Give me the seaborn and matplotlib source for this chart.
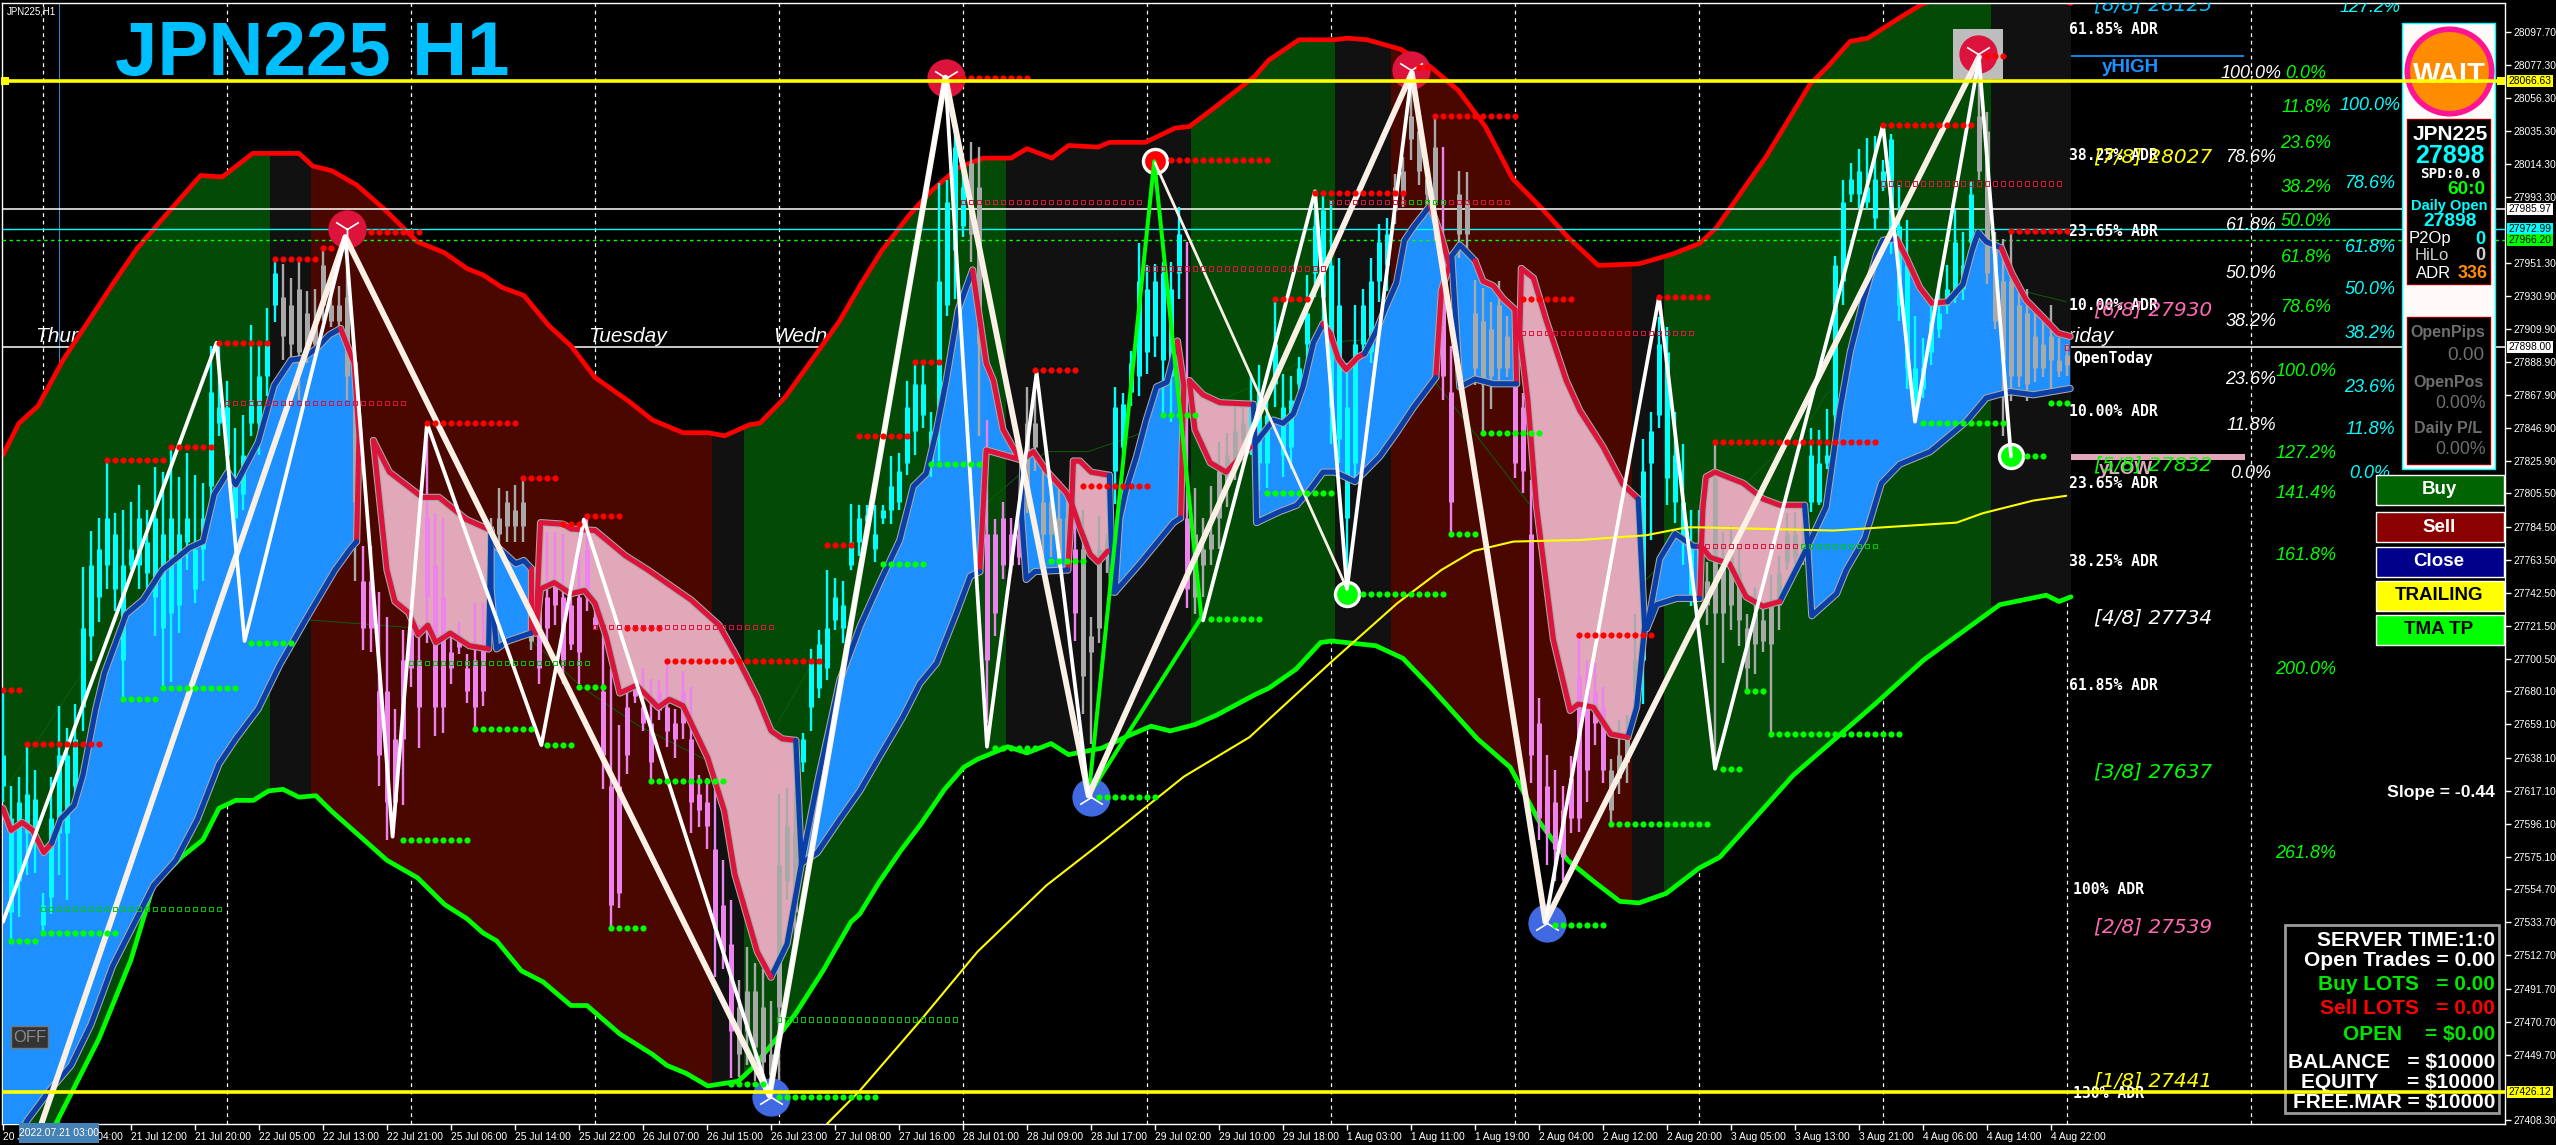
"""JPN225 H1 chart with bands, TMA cloud, zigzags and terminal panels."""

import numpy as np
import matplotlib
matplotlib.use("Agg")
import matplotlib.pyplot as plt
from matplotlib.patches import Rectangle
from matplotlib.transforms import Affine2D
import seaborn as sns

DPI = 100
W, H = 2556, 1145

# time axis
time_labels = ["20 Jul 20:00", "21 Jul 04:00", "21 Jul 12:00", "21 Jul 20:00", "22 Jul 05:00", "22 Jul 13:00",
               "22 Jul 21:00", "25 Jul 06:00", "25 Jul 14:00", "25 Jul 22:00", "26 Jul 07:00", "26 Jul 15:00",
               "26 Jul 23:00", "27 Jul 08:00", "27 Jul 16:00", "28 Jul 01:00", "28 Jul 09:00", "28 Jul 17:00",
               "29 Jul 02:00", "29 Jul 10:00", "29 Jul 18:00", "1 Aug 03:00", "1 Aug 11:00", "1 Aug 19:00",
               "2 Aug 04:00", "2 Aug 12:00", "2 Aug 20:00", "3 Aug 05:00", "3 Aug 13:00", "3 Aug 21:00",
               "4 Aug 06:00", "4 Aug 14:00", "4 Aug 22:00"]
time_ticks = list(range(0, 257, 8))
grid_bars = [5, 28, 51, 74, 97, 120, 143, 166, 189, 212, 235, 258, 281]

price_ticks = [28097.70, 28077.30, 28056.30, 28035.30, 28014.30, 27993.30, 27951.30, 27930.90, 27909.90,
               27888.90, 27867.90, 27846.90, 27825.90, 27805.50, 27784.50, 27763.50, 27742.50, 27721.50,
               27700.50, 27680.10, 27659.10, 27638.10, 27617.10, 27596.10, 27575.10, 27554.70, 27533.70,
               27512.70, 27491.70, 27470.70, 27449.70, 27408.30]

# candles, one value per hourly bar
cand_high = [27680, 27620, 27626, 27645, 27630, 27552, 27626, 27671, 27657, 27672,
             27759, 27782, 27790, 27827, 27793, 27795, 27800, 27811, 27795, 27822,
             27819, 27835, 27816, 27831, 27817, 27812, 27899, 27902, 27877, 27847,
             27855, 27912, 27902, 27923, 27952, 27951, 27942, 27955, 27934, 27935,
             27960, 27936, 27937, 27966, 27894, 27772, 27772, 27743, 27727, 27669,
             27719, 27727, 27722, 27851, 27793, 27790, 27715, 27724, 27704, 27736,
             27736, 27790, 27809, 27807, 27811, 27814, 27760, 27757, 27781, 27781,
             27780, 27743, 27781, 27791, 27731, 27722, 27694, 27659, 27683, 27686,
             27695, 27688, 27687, 27698, 27669, 27693, 27683, 27627, 27625, 27620,
             27573, 27548, 27497, 27518, 27508, 27504, 27484, 27615, 27619, 27617,
             27654, 27707, 27719, 27757, 27752, 27750, 27799, 27798, 27798, 27798,
             27798, 27829, 27831, 27877, 27890, 27887, 27857, 28002, 28004, 28037,
             28014, 28028, 28025, 27852, 27789, 27800, 27790, 27787, 27873, 27877,
             27820, 27818, 27808, 27805, 27789, 27795, 27727, 27791, 27780, 27873,
             27869, 27896, 27964, 27950, 27951, 27952, 27952, 27987, 27965, 27809,
             27790, 27810, 27838, 27844, 27860, 27860, 27881, 27887, 27867, 27928,
             27881, 27880, 27892, 27944, 27989, 27994, 27991, 27955, 27888, 27925,
             27935, 27955, 27976, 27980, 28008, 28019, 28065, 28049, 28012, 28044,
             28025, 27899, 28010, 28009, 27941, 27936, 27927, 27940, 27918, 27900,
             27869, 27814, 27676, 27640, 27630, 27620, 27639, 27716, 27700, 27698,
             27683, 27637, 27662, 27665, 27729, 27840, 27857, 27917, 27911, 27857,
             27837, 27795, 27795, 27762, 27838, 27781, 27785, 27770, 27729, 27746,
             27734, 27754, 27766, 27793, 27794, 27785, 27847, 27846, 27859, 27956,
             28004, 28015, 28024, 28031, 28032, 28017, 28033, 28001, 27979, 27918,
             27904, 27930, 27941, 27950, 27986, 27971, 28003, 28069, 28047, 27971,
             27967, 27972, 27934, 27935, 27920, 27918, 27925, 27904, 27900]
cand_low = [27610, 27523, 27537, 27564, 27565, 27528, 27539, 27564, 27548, 27608,
            27655, 27699, 27724, 27745, 27731, 27676, 27757, 27745, 27745, 27715,
            27683, 27686, 27717, 27757, 27736, 27750, 27795, 27842, 27819, 27772,
            27795, 27842, 27830, 27867, 27914, 27890, 27891, 27865, 27888, 27892,
            27915, 27911, 27911, 27865, 27750, 27706, 27705, 27620, 27586, 27599,
            27608, 27683, 27644, 27711, 27652, 27654, 27685, 27704, 27673, 27657,
            27671, 27760, 27772, 27775, 27775, 27775, 27706, 27685, 27711, 27722,
            27685, 27706, 27685, 27731, 27719, 27618, 27529, 27543, 27628, 27673,
            27655, 27624, 27662, 27645, 27638, 27650, 27590, 27594, 27580, 27499,
            27504, 27435, 27436, 27443, 27433, 27427, 27430, 27427, 27548, 27515,
            27629, 27655, 27676, 27687, 27719, 27711, 27757, 27766, 27785, 27762,
            27786, 27786, 27795, 27817, 27830, 27847, 27816, 27826, 27918, 27929,
            27968, 27952, 27842, 27660, 27715, 27751, 27755, 27760, 27793, 27820,
            27765, 27765, 27757, 27757, 27712, 27666, 27647, 27711, 27755, 27799,
            27826, 27861, 27867, 27881, 27892, 27855, 27851, 27929, 27733, 27729,
            27740, 27760, 27770, 27797, 27814, 27835, 27830, 27807, 27809, 27860,
            27816, 27821, 27871, 27888, 27930, 27915, 27837, 27825, 27757, 27814,
            27893, 27888, 27927, 27934, 27976, 27987, 28017, 28001, 27989, 27966,
            27865, 27781, 27955, 27957, 27874, 27844, 27859, 27874, 27879, 27815,
            27806, 27622, 27586, 27570, 27560, 27560, 27590, 27591, 27610, 27646,
            27622, 27596, 27615, 27622, 27666, 27672, 27776, 27847, 27798, 27787,
            27760, 27734, 27738, 27722, 27632, 27698, 27719, 27709, 27681, 27691,
            27705, 27653, 27719, 27757, 27761, 27760, 27794, 27798, 27821, 27845,
            27925, 27990, 27986, 27986, 27973, 27997, 27957, 27915, 27872, 27851,
            27866, 27887, 27904, 27919, 27926, 27928, 27959, 28004, 27938, 27910,
            27842, 27864, 27873, 27864, 27876, 27879, 27869, 27879, 27880]
cand_top = [27640, 27600, 27610, 27615, 27612, 27545, 27600, 27640, 27640, 27650,
            27720, 27760, 27770, 27790, 27780, 27760, 27770, 27790, 27775, 27790,
            27780, 27790, 27780, 27790, 27770, 27790, 27870, 27860, 27860, 27810,
            27830, 27865, 27880, 27900, 27945, 27930, 27925, 27935, 27920, 27915,
            27950, 27925, 27925, 27930, 27870, 27750, 27750, 27680, 27680, 27650,
            27700, 27720, 27700, 27790, 27760, 27740, 27705, 27715, 27695, 27700,
            27710, 27785, 27790, 27800, 27795, 27800, 27740, 27735, 27740, 27750,
            27740, 27735, 27740, 27770, 27727, 27680, 27620, 27620, 27670, 27682,
            27670, 27660, 27680, 27670, 27660, 27680, 27650, 27615, 27610, 27580,
            27545, 27520, 27480, 27490, 27490, 27480, 27450, 27570, 27595, 27590,
            27650, 27700, 27710, 27720, 27740, 27735, 27775, 27790, 27792, 27780,
            27795, 27810, 27820, 27860, 27875, 27875, 27845, 27940, 27990, 28025,
            28000, 28015, 28000, 27780, 27780, 27790, 27780, 27780, 27850, 27850,
            27800, 27800, 27790, 27790, 27770, 27770, 27715, 27770, 27775, 27860,
            27862, 27888, 27940, 27935, 27940, 27945, 27935, 27970, 27790, 27780,
            27770, 27780, 27820, 27830, 27845, 27850, 27860, 27870, 27855, 27900,
            27860, 27865, 27885, 27920, 27975, 27985, 27950, 27925, 27860, 27900,
            27925, 27940, 27965, 27970, 28000, 28010, 28045, 28035, 28005, 28025,
            27960, 27870, 27995, 27990, 27920, 27915, 27910, 27925, 27905, 27890,
            27860, 27780, 27660, 27620, 27610, 27605, 27625, 27690, 27690, 27680,
            27670, 27630, 27640, 27650, 27700, 27820, 27845, 27900, 27895, 27830,
            27800, 27775, 27770, 27750, 27815, 27765, 27765, 27755, 27720, 27730,
            27725, 27735, 27755, 27780, 27780, 27775, 27830, 27825, 27830, 27950,
            27990, 28005, 28010, 28000, 28005, 28010, 28030, 27975, 27950, 27885,
            27885, 27915, 27920, 27935, 27965, 27950, 27995, 28045, 28035, 27960,
            27940, 27940, 27925, 27920, 27905, 27900, 27905, 27890, 27893]
cand_bot = [27620, 27540, 27560, 27590, 27585, 27532, 27550, 27590, 27590, 27620,
            27670, 27715, 27740, 27760, 27745, 27700, 27760, 27760, 27755, 27740,
            27720, 27730, 27735, 27775, 27745, 27770, 27810, 27850, 27830, 27790,
            27805, 27850, 27850, 27880, 27925, 27905, 27900, 27895, 27895, 27900,
            27925, 27915, 27915, 27880, 27800, 27720, 27720, 27640, 27610, 27610,
            27650, 27695, 27670, 27740, 27670, 27670, 27695, 27708, 27680, 27670,
            27680, 27770, 27780, 27785, 27785, 27785, 27712, 27695, 27720, 27735,
            27700, 27710, 27705, 27740, 27722, 27640, 27545, 27552, 27640, 27677,
            27660, 27635, 27668, 27655, 27650, 27660, 27610, 27605, 27595, 27530,
            27515, 27465, 27450, 27465, 27455, 27445, 27437, 27480, 27560, 27540,
            27635, 27670, 27682, 27695, 27725, 27720, 27760, 27775, 27788, 27770,
            27790, 27795, 27800, 27825, 27845, 27855, 27825, 27860, 27925, 27960,
            27975, 27970, 27900, 27700, 27730, 27760, 27760, 27765, 27810, 27835,
            27780, 27780, 27765, 27765, 27730, 27690, 27705, 27720, 27765, 27820,
            27835, 27870, 27880, 27895, 27905, 27890, 27880, 27945, 27745, 27740,
            27760, 27770, 27790, 27810, 27825, 27840, 27845, 27825, 27825, 27875,
            27830, 27835, 27875, 27900, 27945, 27930, 27860, 27840, 27790, 27825,
            27900, 27895, 27940, 27950, 27985, 27995, 28030, 28010, 27995, 27990,
            27880, 27800, 27970, 27970, 27885, 27875, 27880, 27885, 27885, 27825,
            27820, 27640, 27600, 27590, 27580, 27575, 27600, 27600, 27630, 27660,
            27630, 27605, 27625, 27635, 27680, 27700, 27825, 27855, 27815, 27800,
            27775, 27740, 27745, 27735, 27730, 27730, 27735, 27725, 27695, 27710,
            27712, 27710, 27735, 27762, 27765, 27765, 27800, 27800, 27825, 27855,
            27940, 27995, 27995, 27990, 27980, 28000, 27970, 27925, 27885, 27858,
            27872, 27895, 27910, 27925, 27930, 27935, 27965, 28010, 27945, 27915,
            27890, 27880, 27880, 27875, 27885, 27885, 27890, 27883, 27887]
cand_kind = ("c" * 35 + "g" * 10 + "v" * 16 + "g" * 6 + "v" * 25 + "g" * 8 + "c" * 21 + "g" * 2 + "v" * 5
             + "g" * 6 + "v" + "g" * 4 + "c" * 9 + "v" + "g" * 7 + "c" * 18 + "g" * 6 + "v" * 2 + "g" * 7
             + "v" * 12 + "g" * 4 + "c" * 8 + "g" * 13 + "c" * 21 + "g" * 12)

# outer bands
upper_x = [0, 2, 4.4, 7.5, 10.6, 13.7, 16.8, 20.2, 24.7, 27.4, 31.2, 37, 38.7, 41.1, 44.2, 47.6, 51.8, 55.2,
           58, 60, 62.4, 65.1, 68.2, 71, 74, 78.2, 81.2, 85, 88.1, 90.2, 93.3, 94.6, 97.7, 101.1, 104.6, 107.1,
           109.8, 113.3, 116, 119.4, 122.5, 126, 128, 131.1, 133.2, 136.9, 138.3, 142.8, 146.5, 148.3, 151.7,
           156.5, 158.2, 162, 166.4, 168.1, 170.5, 174.7, 178.4, 181.9, 185.3, 188.7, 192.2, 195.6, 199.4,
           204.5, 208.6, 212.1, 214.2, 217.5, 220.4, 223.4, 225.9, 228.1, 230.9, 233.1, 237.1, 240, 248, 255, 258.5]
upper_y = [27830, 27850, 27861, 27890, 27914, 27938, 27961, 27981, 28007, 28006, 28021, 28021, 28013, 28010,
           28001, 27986, 27965, 27958, 27948, 27944, 27936, 27931, 27912, 27899, 27879, 27864, 27852, 27844,
           27844, 27842, 27849, 27850, 27866, 27890, 27915, 27937, 27959, 27982, 27997, 28012, 28018, 28018,
           28024, 28018, 28026, 28025, 28028, 28028, 28037, 28038, 28051, 28070, 28080, 28093, 28093, 28094,
           28093, 28087, 28076, 28061, 28038, 28005, 27987, 27968, 27950, 27951, 27957, 27964, 27974, 27998,
           28019, 28044, 28065, 28076, 28092, 28094, 28107, 28116, 28128, 28122, 28116]
lower_x = [0, 6, 12, 16, 18.8, 22.3, 25, 27, 29.1, 31.3, 33.2, 35, 37, 39.1, 41.1, 44.9, 48, 51.8, 55.2, 58, 60,
           61.7, 64.8, 67.5, 71, 73, 77.1, 81.2, 83, 85.4, 88.1, 91.9, 93.6, 96.7, 99.1, 102.5, 106, 107.1,
           109.5, 112.2, 114.6, 117.7, 120.1, 121.8, 125.6, 128, 131, 133.2, 137.3, 140.7, 143.5, 145.9, 149,
           151.7, 156.5, 158.2, 161.6, 164.7, 166.1, 171.6, 175, 178.4, 184.3, 188.4, 192.1, 195.6, 199, 202.1,
           204.5, 207.9, 212, 214.6, 223.8, 234, 240.1, 249.6, 255.4, 257, 258.5]
lower_y = [27360, 27400, 27460, 27510, 27557, 27575, 27586, 27606, 27611, 27611, 27617, 27618, 27613, 27614,
           27604, 27587, 27573, 27562, 27545, 27536, 27527, 27522, 27503, 27496, 27481, 27481, 27463, 27450,
           27443, 27438, 27430, 27433, 27441, 27460, 27476, 27503, 27534, 27539, 27559, 27579, 27595, 27618,
           27632, 27637, 27645, 27641, 27647, 27640, 27644, 27652, 27658, 27655, 27659, 27665, 27678, 27682,
           27694, 27711, 27712, 27709, 27701, 27683, 27650, 27632, 27597, 27573, 27559, 27547, 27546, 27552,
           27568, 27575, 27627, 27672, 27700, 27735, 27741, 27737, 27740]

# trend zones between the bands
zone_start = [-1, 33.4, 38.5, 88.6, 92.6, 125.4, 148.5, 166.5, 173.5, 203.6, 207.6, 248.5]
zone_end = [33.4, 38.5, 88.6, 92.6, 125.4, 148.5, 166.5, 173.5, 203.6, 207.6, 248.5, 258.5]
zone_color = ["#034a06", "#111111", "#4a0700", "#111111", "#034a06", "#111111",
              "#034a06", "#111111", "#4a0700", "#111111", "#034a06", "#111111"]

# TMA cloud pieces: edge colour plus the stretch of the outline it colours
blue_1 = [("c", [(0, 27606), (1, 27592), (2.4, 27597), (3.7, 27592), (5.1, 27578), (6.1, 27584)]),
          ("n", [(6.1, 27584), (7.2, 27599), (8.9, 27608), (10, 27627), (11.6, 27669), (12.7, 27692), (15.4, 27729),
                 (17.5, 27738), (19.9, 27757), (23.3, 27771), (25, 27775), (26.4, 27805), (28.1, 27819),
                 (29.1, 27811), (31.9, 27838), (33.9, 27874), (36, 27890), (37.4, 27891), (39.1, 27897),
                 (40.8, 27906), (42.2, 27910)]),
          ("c", [(42.2, 27910), (43.9, 27888), (44.5, 27842), (44.2, 27775)]),
          ("n", [(44.2, 27775), (43.5, 27771), (41.5, 27757), (38, 27727), (34.6, 27697), (31.9, 27669), (29.1, 27650),
                 (27, 27634), (24.3, 27599), (21.6, 27573), (18.8, 27557), (16.1, 27530), (13.7, 27506), (11, 27469),
                 (8.5, 27443), (5.8, 27427), (3, 27408), (0, 27375)])]
pink_1 = [("c", [(46.3, 27839), (48.3, 27819), (52.4, 27803), (54.5, 27803), (57.9, 27789), (61, 27782)]),
          ("n", [(61, 27782), (60.7, 27707)]),
          ("c", [(60.7, 27707), (58.3, 27709), (55.9, 27717), (54.1, 27711), (53.1, 27722), (51.9, 27716), (50.7, 27730),
                 (49, 27737), (48, 27757), (46.3, 27839)])]
blue_2 = [("n", [(61.7, 27772), (64.1, 27761), (65.1, 27763), (66, 27758)]),
          ("c", [(66, 27758), (66, 27717)]),
          ("n", [(66, 27717), (63.1, 27712), (61.7, 27707), (61, 27745), (61, 27782)])]
pink_2 = [("c", [(66.6, 27717), (67.2, 27787), (70, 27786), (71, 27783), (74, 27782), (77.8, 27766), (80.6, 27757),
                 (86, 27738), (89.5, 27722), (91.5, 27704), (94.3, 27676), (96, 27655), (97.4, 27650), (99.1, 27649)]),
          ("n", [(99.1, 27649), (99.8, 27571), (98, 27520), (96, 27499)]),
          ("c", [(96, 27499), (94.3, 27515), (91.5, 27564), (90.2, 27604), (88.1, 27638), (85, 27671), (83.3, 27675),
                 (81.9, 27670), (79.2, 27684), (77.1, 27679), (75.4, 27715), (74, 27736), (72.7, 27744), (71, 27742),
                 (68.9, 27749), (67.2, 27745), (66.6, 27717)])]
blue_3 = [("n", [(99.8, 27571), (101.8, 27622), (104.6, 27687), (107.2, 27722), (109.6, 27749), (112.1, 27776),
                 (113.8, 27810), (115.4, 27818), (116.7, 27846), (117.9, 27877), (119.4, 27922), (121.2, 27947)]),
          ("c", [(121.2, 27947), (122.9, 27888), (123.8, 27877), (125, 27846), (127.1, 27827), (122.9, 27833),
                 (122.1, 27756)]),
          ("n", [(122.1, 27756), (120.9, 27753), (119.2, 27730), (116.7, 27698), (114.6, 27685), (112.5, 27664),
                 (109.6, 27639), (107.1, 27617), (104.6, 27599), (101.8, 27578), (99.8, 27571)])]
blue_4 = [("c", [(127.5, 27827), (128.8, 27832), (130.4, 27820), (132.9, 27806), (133.6, 27799), (133.1, 27757)]),
          ("n", [(133.1, 27757), (129, 27756), (127.9, 27751), (127.3, 27793), (127.5, 27827)])]
pink_4 = [("c", [(133.8, 27826), (134.6, 27826), (136, 27819), (138.3, 27817)]),
          ("n", [(138.3, 27817), (138.7, 27743)]),
          ("c", [(138.1, 27769), (136.9, 27762), (135.9, 27767), (134.6, 27784), (133.6, 27799), (133.8, 27826)])]
blue_5 = [("n", [(139, 27743), (139.6, 27790), (140.4, 27808), (141.7, 27829), (142.9, 27852), (144.2, 27873),
                 (145.5, 27876), (146.8, 27902)]),
          ("c", [(146.8, 27902), (147.6, 27874), (147.2, 27790)]),
          ("n", [(147.2, 27790), (146.3, 27787), (142.1, 27761), (139, 27743)])]
pink_5 = [("c", [(148.3, 27877), (150, 27868), (152.1, 27863), (156.3, 27862)]),
          ("n", [(156.3, 27862), (156.5, 27837)]),
          ("c", [(155.9, 27835), (152.9, 27819), (150.9, 27825), (149, 27846), (148.3, 27877)])]
blue_6 = [("n", [(156.5, 27837), (158.8, 27852), (160, 27850), (161.3, 27856), (162.5, 27873), (163.8, 27901),
                 (165, 27913)]),
          ("c", [(165, 27913), (165.9, 27907), (166.9, 27891), (167.9, 27884), (169.4, 27892), (170.2, 27894)]),
          ("n", [(170.2, 27894), (171.7, 27909), (172.9, 27924), (174.2, 27939), (175.2, 27966), (176.4, 27975),
                 (178.4, 27988)]),
          ("c", [(178.4, 27988), (179.8, 27968), (180.8, 27950), (179.8, 27934), (179.1, 27879)]),
          ("n", [(179.1, 27879), (176.3, 27860), (174.2, 27844), (172.1, 27829), (169, 27813), (166.5, 27819),
                 (165, 27819), (163.4, 27808), (161.7, 27798), (159.6, 27794), (157.5, 27789), (156.7, 27787),
                 (156.5, 27837)])]
blue_7 = [("n", [(181.1, 27956), (182.1, 27963), (184, 27953)]),
          ("c", [(184, 27953), (185, 27940), (186.3, 27937), (187.5, 27929), (189, 27922), (189.2, 27875)]),
          ("n", [(189.2, 27875), (186.3, 27875), (184, 27878), (182.1, 27873), (181.1, 27956)])]
pink_7 = [("c", [(189.8, 27948), (191.3, 27942), (192.9, 27915), (195.4, 27877), (197.1, 27858), (200, 27835),
                 (202.5, 27811), (204.4, 27802)]),
          ("n", [(204.4, 27802), (205.2, 27721), (204.2, 27670), (203.1, 27651)]),
          ("c", [(203.1, 27651), (201, 27653), (198.8, 27670), (196.9, 27672), (195.9, 27668), (193.8, 27713),
                 (191.7, 27797), (190.6, 27865), (189.6, 27907), (189.8, 27948)])]
blue_8 = [("n", [(205.5, 27720), (207.1, 27764), (209, 27780), (211.3, 27772), (212.3, 27772)]),
          ("c", [(212.3, 27772), (212.1, 27739)]),
          ("n", [(212.1, 27739), (209.2, 27739), (206.7, 27735), (205.5, 27720)])]
pink_9 = [("c", [(212.5, 27797), (212.9, 27816), (214, 27819), (217.5, 27812), (220, 27802), (222.1, 27798),
                 (225.2, 27798)]),
          ("n", [(225.2, 27798), (225.6, 27772), (222.1, 27737)]),
          ("c", [(222.1, 27737), (220, 27734), (217.9, 27740), (215.8, 27761), (213.4, 27765), (212.3, 27772),
                 (212.5, 27797)])]
blue_10 = [("n", [(225.6, 27772), (227.9, 27797), (229.6, 27858), (230.9, 27895), (232.5, 27927), (234.2, 27957),
                  (235, 27966), (236.7, 27967)]),
           ("c", [(236.7, 27967), (237.9, 27955), (239.6, 27936), (241.1, 27926), (243.1, 27927)]),
           ("n", [(243.1, 27927), (245, 27938), (246.1, 27959), (246.9, 27971), (247.9, 27965), (249.8, 27961)]),
           ("c", [(249.8, 27961), (251.1, 27945), (252.9, 27928), (255.4, 27915), (256.9, 27907), (258.4, 27905)]),
           ("n", [(258.4, 27872), (253.8, 27868), (250.9, 27870), (247.9, 27866), (245.4, 27851), (240.9, 27832),
                  (237.1, 27824), (234.8, 27812), (232.7, 27777), (230.4, 27757), (229.2, 27742), (226.1, 27728),
                  (225.6, 27772)])]
blue_clouds = [blue_1, blue_2, blue_3, blue_4, blue_5, blue_6, blue_7, blue_8, blue_10]
pink_clouds = [pink_1, pink_2, pink_4, pink_5, pink_7, pink_9]

# slow moving averages
ma_yellow_x = [103, 107.1, 114.6, 121.8, 130.4, 138, 147.6, 155.8, 166.1, 174.3, 179.8, 183.8, 188.8, 197.1, 205.4,
               210.4, 212.1, 228.8, 244.2, 247.5, 253.8, 257.9]
ma_yellow_y = [27406, 27427, 27471, 27515, 27557, 27587, 27626, 27651, 27699, 27736, 27757, 27769, 27775, 27776,
               27779, 27784, 27784, 27782, 27787, 27793, 27801, 27804]
ma_dark_x = [0.3, 15.4, 65.5, 72.3, 79.2, 88.1, 95.7, 102.5, 130.4, 135.6, 141.4, 156.5, 167.5, 170.9, 179.2, 190.6,
             205.4, 225.8, 228, 253.1, 257.9]
ma_dark_y = [27618, 27734, 27715, 27683, 27659, 27636, 27650, 27710, 27832, 27832, 27842, 27874, 27902, 27903,
             27875, 27800, 27751, 27851, 27869, 27933, 27927]

# zigzags
zz_major_x = [4.8, 42.8, 95.8, 117.8, 135.7, 176.1, 192.8, 247]
zz_major_y = [27406, 27968, 27424, 28069, 27614, 28072, 27534, 28082]
zz_a_x = [0, 26.7, 30.2, 42.8, 48.7, 53, 67.3, 72.6, 95.8, 117.8, 123, 129.2, 135.7]
zz_a_y = [27534, 27901, 27712, 27968, 27588, 27850, 27646, 27789, 27424, 28069, 27645, 27882, 27614]
zz_b_x = [150, 164, 168, 176.1]
zz_b_y = [27725, 27997, 27745, 28072]
zz_c_x = [144, 168]
zz_c_y = [28015, 27745]
zz_d_x = [192.8, 207, 214, 235, 239, 247, 251]
zz_d_y = [27534, 27930, 27631, 28039, 27851, 28081, 27829]
zz_green_x = [135.7, 143.9, 149.8, 135.7]
zz_green_y = [27614, 28016, 27727, 27614]

# fractal levels drawn as dotted rows
red_start = [0, 3, 13, 21, 27, 34, 40, 46, 53, 65, 70, 73, 78, 83, 103, 107, 114, 119, 129, 135, 146, 159, 164,
             177, 179, 190, 197, 207, 214, 235, 248, 251]
red_end = [2, 12, 20, 26, 33, 39, 41, 52, 64, 69, 72, 77, 82, 102, 106, 113, 117, 128, 134, 143, 158, 163, 175,
           178, 189, 196, 206, 213, 234, 246, 250, 258]
red_price = [27681, 27647, 27827, 27835, 27901, 27954, 27961, 27971, 27850, 27815, 27786, 27791, 27720, 27699,
             27773, 27842, 27889, 28069, 27884, 27810, 28017, 27929, 27996, 28076, 28045, 27929, 27716, 27930,
             27838, 28039, 28083, 27972]
green_start = [1, 5, 15, 20, 31, 50, 59, 68, 72, 76, 81, 91, 97, 110, 116, 124, 131, 137, 145, 151, 158, 170, 181,
               185, 194, 201, 215, 218, 221, 240, 253, 256]
green_end = [4, 14, 19, 29, 36, 58, 66, 71, 75, 80, 90, 95, 109, 115, 122, 129, 135, 144, 149, 157, 166, 180, 184,
             192, 200, 213, 217, 220, 237, 250, 255, 258]
green_price = [27522, 27527, 27675, 27682, 27711, 27586, 27656, 27646, 27683, 27530, 27623, 27431, 27423, 27761,
               27824, 27644, 27763, 27613, 27855, 27726, 27806, 27742, 27780, 27844, 27532, 27596, 27631, 27680,
               27653, 27850, 27829, 27863]
box_start = [5, 28, 37, 51, 74, 97, 120, 143, 166, 176, 181, 189, 212, 225, 235, 258]
box_end = [27, 36, 50, 73, 96, 119, 142, 165, 175, 180, 188, 211, 224, 234, 257, 258]
box_price = [27542, 27863, 27863, 27698, 27721, 27472, 27990, 27948, 27990, 27990, 27990, 27907, 27772, 27772,
             28002, 27898]
box_color = ["#00c800", "#dc143c", "#dc143c", "#00c800", "#dc143c", "#00c800", "#dc143c", "#dc143c", "#dc143c",
             "#00c800", "#dc143c", "#dc143c", "#dc143c", "#00c800", "#dc143c", "#dc143c"]

# swing markers
peak_x, peak_y = [43, 117.9, 176], [27973, 28069, 28074]
trough_x, trough_y = [96, 136, 193], [27423, 27613, 27533]
last_peak_x, last_peak_y = [246.9], [28084]
ring_red_x, ring_red_y = [144], [28016]
ring_green_x, ring_green_y = [168, 251], [27742, 27829]

# horizontal lines and their price labels
hi_price, lo_price = 28066.63, 27426.12
white_levels = [27985.97, 27898.00]
cyan_level, green_level = 27972.99, 27966.20
tag_prices = [28066.63, 27985.97, 27972.99, 27966.20, 27898.00, 27426.12]
tag_colors = ["#ffff00", "#ffffff", "#00ffff", "#00ff00", "#ffffff", "#ffff00"]

# screen texts
day_names = ["Thursday", "Tuesday", "Wednesday", "Friday"]
day_bars = [4, 73.2, 96.3, 256.5]
adr_texts = ["61.85% ADR", "38.25% ADR", "23.65% ADR", "10.00% ADR", "10.00% ADR", "23.65% ADR", "38.25% ADR", "61.85% ADR"]
adr_rows = [29, 155, 232, 305, 411, 483, 561, 686]
white_fibs = ["100.0%", "78.6%", "61.8%", "50.0%", "38.2%", "23.6%", "11.8%", "0.0%"]
white_rows = [73, 158, 226, 273, 321, 380, 426, 474]
green_fibs = ["0.0%", "11.8%", "23.6%", "38.2%", "50.0%", "61.8%", "78.6%", "100.0%", "127.2%", "141.4%", "161.8%",
              "200.0%", "261.8%"]
green_rows = [73, 108, 143, 187, 222, 257, 308, 371, 453, 494, 555, 669, 854]
cyan_fibs = ["127.2%", "100.0%", "78.6%", "61.8%", "50.0%", "38.2%", "23.6%", "11.8%", "0.0%"]
cyan_rows = [7, 106, 184, 247, 290, 333, 387, 430, 474]
murrey_texts = ["[8/8] 28125", "[7/8] 28027", "[6/8] 27930", "[5/8] 27832", "[4/8] 27734", "[3/8] 27637",
                "[2/8] 27539", "[1/8] 27441"]
murrey_rows = [5, 157, 310, 465, 618, 772, 927, 1081]
murrey_colors = ["#00bfff", "#ffff00", "#ff69b4", "#00ff00", "#ffffff", "#00ff00", "#ff69b4", "#ffff00"]

button_names = ["Buy", "Sell", "Close", "TRAILING", "TMA TP"]
button_tops = [475, 512, 547, 581, 615]
button_colors = ["#006400", "#8b0000", "#00008b", "#ffff00", "#00ff00"]
button_inks = ["white", "white", "white", "black", "black"]

account_rows = ["SERVER TIME:1:0", "Open Trades = 0.00", "Buy LOTS   = 0.00", "Sell LOTS   = 0.00", "OPEN    = $0.00",
                "BALANCE   = $10000", "EQUITY     = $10000", "FREE.MAR = $10000"]
account_y = [941, 961, 984, 1009, 1034, 1063, 1083, 1103]
account_colors = ["white", "white", "#00e600", "#ff0000", "#00e600", "white", "white", "white"]

sns.set_theme(style="dark", rc={
    "axes.facecolor": "black", "figure.facecolor": "black", "axes.edgecolor": "white",
    "xtick.color": "white", "ytick.color": "white", "xtick.bottom": True, "ytick.right": True,
    "axes.linewidth": 1.0,
})
plt.rcParams['font.family'] = ['Liberation Sans', 'DejaVu Sans']

fig = plt.figure(figsize=(W / DPI, H / DPI), dpi=DPI)
ax = fig.add_axes([2 / W, 1 - 1124 / H, (2505 - 2) / W, (1124 - 3) / H])
ax.set_xlim(-0.125, 312.75)
ax.set_ylim(27405.9, 28116.3)
y_lo, y_hi = ax.get_ylim()

# screen pixels, origin top left
PX = Affine2D().scale(1 / DPI, -1 / DPI).translate(0, H / DPI) + fig.dpi_scale_trans


def put(x, y, s, color="white", size=10, ha="center", **kw):
    ax.text(x, y, s, color=color, fontsize=size, ha=ha, va="center", transform=PX, zorder=kw.pop("zorder", 9), **kw)


def box(x0, y0, x1, y1, face, edge="none", lw=0, z=10):
    ax.add_patch(Rectangle((x0, y0), x1 - x0, y1 - y0, facecolor=face, edgecolor=edge, linewidth=lw,
                           transform=PX, clip_on=False, zorder=z))


def line(x, y, color, lw, z, **kw):
    sns.lineplot(x=x, y=y, color=color, linewidth=lw, sort=False, estimator=None, errorbar=None,
                 ax=ax, zorder=z, **kw)


# things that sit behind the zones
ax.vlines(grid_bars, y_lo, y_hi, colors="white", linewidth=0.9, linestyles=(0, (3, 3)), zorder=1)
ax.vlines([7], y_lo, y_hi, colors="#3b7fc4", linewidth=0.8, zorder=1)
ax.hlines(white_levels[1], -0.125, 312.75, colors="white", linewidth=1.1, zorder=1)
for name, bar in zip(day_names, day_bars):
    ax.text(bar, 27905, name, color="white", fontsize=15, style="italic", ha="left", va="center", zorder=1)

# zones are one band polygon clipped to each time span
band_x = upper_x + lower_x[::-1]
band_y = upper_y + lower_y[::-1]
for x0, x1, col in zip(zone_start, zone_end, zone_color):
    poly = ax.fill(band_x, band_y, color=col, linewidth=0, zorder=2)[0]
    poly.set_clip_path(Rectangle((x0, y_lo), x1 - x0, y_hi - y_lo, transform=ax.transData))

line(ma_dark_x, ma_dark_y, "#0b5d0b", 0.7, 2.2)
line(upper_x, upper_y, "#ff0000", 3.4, 2.5)
line(lower_x, lower_y, "#00ff00", 3.4, 2.5)

ax.hlines(white_levels[0], -0.125, 312.75, colors="white", linewidth=1.1, zorder=3.5)
ax.hlines(cyan_level, -0.125, 312.75, colors="#00ffff", linewidth=1.0, zorder=3.5)
ax.hlines(green_level, -0.125, 312.75, colors="#00ff00", linewidth=1.0, linestyles=(0, (2.5, 2.5)), zorder=3.5)

# cloud fills
for pieces, face in [(c, "#1e90ff") for c in blue_clouds] + [(c, "#e0a8b8") for c in pink_clouds]:
    pts = [p for _, path in pieces for p in path]
    ax.fill([p[0] for p in pts], [p[1] for p in pts], color=face, linewidth=0, zorder=3)

# candles
bars = np.arange(len(cand_high))
kinds = np.array(list(cand_kind))
high, low = np.array(cand_high), np.array(cand_low)
top, bot = np.array(cand_top), np.array(cand_bot)
for code, col in [("c", "#00ffff"), ("v", "#ee82ee"), ("g", "#a9a9a9")]:
    m = kinds == code
    ax.vlines(bars[m], low[m], high[m], colors=col, linewidth=1.7, zorder=4)
    ax.vlines(bars[m], bot[m], top[m], colors=col, linewidth=3.6, zorder=4)

# cloud outlines with their grey halo
edge_colors = {"c": "#dc143c", "n": "#0a3fa8"}
for pieces in blue_clouds + pink_clouds:
    for code, path in pieces:
        line([p[0] for p in path], [p[1] for p in path], "#a9a9a9", 5.2, 4.8)
for pieces in blue_clouds + pink_clouds:
    for code, path in pieces:
        line([p[0] for p in path], [p[1] for p in path], edge_colors[code], 3.7, 5)

line(ma_yellow_x, ma_yellow_y, "#ffff00", 1.5, 5.5)

# swing markers
ax.scatter(last_peak_x, last_peak_y, marker="s", s=1245, color="#bdbdbd", linewidth=0, zorder=5.6)
ax.scatter(peak_x + last_peak_x, peak_y + last_peak_y, s=760, color="#dc143c", linewidth=0, zorder=5.7)
ax.scatter(trough_x, trough_y, s=760, color="#4169e1", linewidth=0, zorder=5.7)
ax.scatter(peak_x + last_peak_x, peak_y + last_peak_y, marker="1", s=420, color="white", linewidth=1.2, zorder=5.8)
ax.scatter(trough_x, trough_y, marker="2", s=420, color="white", linewidth=1.2, zorder=5.8)
ax.scatter(ring_red_x, ring_red_y, s=300, color="#ff0000", edgecolor="white", linewidth=2.4, zorder=5.8)
ax.scatter(ring_green_x, ring_green_y, s=300, color="#00ff00", edgecolor="white", linewidth=2.4, zorder=5.8)

# zigzags
line(zz_green_x, zz_green_y, "#00ff00", 2.9, 6)
line(zz_major_x, zz_major_y, "#faf0e6", 4.2, 6.1)
line(zz_c_x, zz_c_y, "#faf0e6", 2.0, 6.2)
for zx, zy in [(zz_a_x, zz_a_y), (zz_b_x, zz_b_y), (zz_d_x, zz_d_y)]:
    line(zx, zy, "white", 2.7, 6.2)

# dotted level rows
for starts, ends, prices, col in [(red_start, red_end, red_price, "#ff0000"),
                                  (green_start, green_end, green_price, "#00ff00")]:
    for s, e, p in zip(starts, ends, prices):
        xs = np.arange(s, e + 1)
        sns.scatterplot(x=xs, y=[p] * len(xs), color=col, s=20, linewidth=0, ax=ax, zorder=7)
for s, e, p, col in zip(box_start, box_end, box_price, box_color):
    xs = np.arange(s, e + 1)
    ax.scatter(xs, [p] * len(xs), marker="s", s=10, facecolor="none", edgecolor=col, linewidth=0.7, zorder=7)

# axes
ax.yaxis.tick_right()
ax.set_yticks(price_ticks)
ax.set_yticklabels([f"{v:.2f}" for v in price_ticks], fontsize=7.4, color="white")
ax.set_xticks(time_ticks)
ax.set_xticklabels(time_labels, fontsize=7.4, color="white", ha="left")
ax.tick_params(axis="both", length=4, width=1, pad=2, color="white")
ax.set_xlabel("")
ax.set_ylabel("")
for spine in ax.spines.values():
    spine.set_color("white")

# chart labels
put(115, 55, "JPN225 H1", "#00bfff", 55, ha="left", fontweight="bold")
put(7, 11, "JPN225,H1", "white", 7, ha="left")
box(11, 1026, 48, 1048, "#333333", "#777777", 1, z=8)
put(29.5, 1037, "OFF", "#8a8a8a", 12)
box(19, 1123, 99, 1143, "#4682b4", z=8)
put(59, 1133, "2022.07.21 03:00", "white", 7.4)

for s, y in zip(adr_texts, adr_rows):
    put(2069, y, s, "white", 10.6, ha="left", family="DejaVu Sans Mono", fontweight="bold")
put(2073, 889, "100% ADR", "white", 10.6, ha="left", family="DejaVu Sans Mono", fontweight="bold")
put(2073, 1093, "130% ADR", "white", 10.6, ha="left", family="DejaVu Sans Mono", fontweight="bold")
put(2073, 359, "OpenToday", "white", 10.6, ha="left", family="DejaVu Sans Mono", fontweight="bold")

box(2071, 54.5, 2244, 57, "#0a84d8", z=8)
put(2130, 67, "yHIGH", "#1e90ff", 13.5, fontweight="bold")
box(2071, 454, 2245, 460, "#e0a8b8", z=8)
put(2126, 470, "yLOW", "#e0a8b8", 13.5, fontweight="bold")

for s, y in zip(white_fibs, white_rows):
    put(2251, y, s, "white", 13, style="italic")
for s, y in zip(green_fibs, green_rows):
    put(2306, y, s, "#00ff00", 13, style="italic")
for s, y in zip(cyan_fibs, cyan_rows):
    put(2370, y, s, "#00ffff", 13, style="italic", clip_on=True)
for s, y, col in zip(murrey_texts, murrey_rows, murrey_colors):
    put(2153, y, s, col, 14.5, style="italic", family="DejaVu Sans", clip_on=True)

# terminal panel
box(2402, 23, 2495, 469, "#fffafa", "#00ffff", 1, z=10)
ax.scatter([2449], [71], s=3700, color="#ff8c00", edgecolor="#ff1493", linewidth=4, transform=PX, clip_on=False, zorder=10.5)
put(2449, 75, "WAIT", "white", 21, fontweight="bold", zorder=11)
box(2407, 119, 2490, 284, "black", "#8b0000", 1, z=10.5)
put(2450, 134, "JPN225", "white", 15, fontweight="bold", zorder=11)
put(2450, 156, "27898", "#00ffff", 18, fontweight="bold", zorder=11)
put(2450, 174, "SPD:0.0", "white", 10.4, family="DejaVu Sans Mono", fontweight="bold", zorder=11)
put(2466, 190, "60:0", "#00ff00", 13.7, fontweight="bold", zorder=11)
put(2449, 206, "Daily Open", "#00ffff", 10.5, fontweight="bold", zorder=11)
put(2450, 222, "27898", "#00ffff", 13.8, fontweight="bold", zorder=11)
put(2430, 239, "P2Op", "white", 12, zorder=11)
put(2480, 239, "0", "#00ffff", 13, fontweight="bold", zorder=11)
put(2432, 256, "HiLo", "#cfcfcf", 12, zorder=11)
put(2480, 256, "0", "#cfcfcf", 13, fontweight="bold", zorder=11)
put(2434, 273, "ADR", "white", 12, zorder=11)
put(2473, 273, "336", "#ff8c00", 13, fontweight="bold", zorder=11)
box(2407, 317, 2490, 464, "black", "#8b0000", 1, z=10.5)
put(2448, 332, "OpenPips", "#6e6e6e", 11.5, fontweight="bold", zorder=11)
put(2466, 356, "0.00", "#6e6e6e", 13.7, zorder=11)
put(2448, 382, "OpenPos", "#6e6e6e", 11.5, fontweight="bold", zorder=11)
put(2460, 404, "0.00%", "#6e6e6e", 12.7, zorder=11)
put(2448, 428, "Daily P/L", "#6e6e6e", 11.5, fontweight="bold", zorder=11)
put(2460, 449, "0.00%", "#6e6e6e", 12.7, zorder=11)

# buttons
for name, y, face, ink in zip(button_names, button_tops, button_colors, button_inks):
    box(2376, y, 2504, y + 30, face, "white", 1, z=10)
    put(2439, y + 15, name, ink, 13.5, fontweight="bold", zorder=11)

put(2441, 792, "Slope = -0.44", "white", 12.6, fontweight="bold")

# account box
box(2285, 925, 2499, 1113, "black", "#9a9a9a", 2, z=10)
for s, y, col in zip(account_rows, account_y, account_colors):
    put(2495, y, s, col, 15, ha="right", fontweight="bold", zorder=11)

# yellow range lines run over the panels
ax.hlines([hi_price, lo_price], -0.125, 312.75, colors="#ffff00", linewidth=2.6, zorder=12)
ax.scatter([0.2, 312.2], [hi_price, hi_price], marker="s", s=40, color="#ffff00", linewidth=0, zorder=12, clip_on=False)

# price tags on the right axis
trans = ax.transData
for p, col in zip(tag_prices, tag_colors):
    y_px = H - trans.transform((0, p))[1]
    box(2507, y_px - 6, 2553, y_px + 6, col, z=13)
    put(2530, y_px, f"{p:.2f}", "black", 7.4, zorder=14)

fig.savefig("out.png", dpi=DPI, facecolor="black")
